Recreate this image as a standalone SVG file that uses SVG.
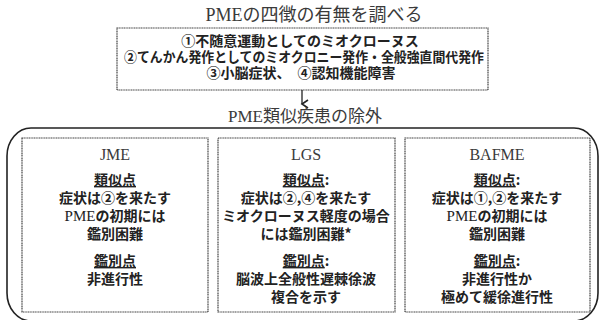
<svg xmlns="http://www.w3.org/2000/svg" width="605" height="320" viewBox="0 0 605 320">
<defs>
<style>
.serif{font-family:"Liberation Serif","Noto Sans CJK JP",serif;fill:#3a3a3a;text-anchor:middle}
.goth{font-family:"Noto Sans CJK JP",sans-serif;font-weight:700;fill:#222;text-anchor:middle;font-size:14px}
.ul{text-decoration:underline}
.box{fill:none;stroke:#444;stroke-width:1.2;stroke-dasharray:1.2 0.5}
.lat{font-family:"Liberation Serif",serif}
</style>
<marker id="ah" markerWidth="12" markerHeight="12" refX="5" refY="9" orient="auto" markerUnits="userSpaceOnUse">
<path d="M1,3 L5,9 L9,3" fill="none" stroke="#222" stroke-width="1.6"/>
</marker>
</defs>
<rect width="605" height="320" fill="#fff"/>
<text class="serif" x="314" y="21" font-size="18">PMEの四徴の有無を調べる</text>
<g id="four-signs">
<rect class="box" x="117" y="28" width="371" height="62"/>
<text class="goth" x="300" y="46" font-size="13">①不随意運動としてのミオクローヌス</text>
<text class="goth" x="304" y="62" font-size="13" textLength="360" lengthAdjust="spacingAndGlyphs">②てんかん発作としてのミオクロニー発作・全般強直間代発作</text>
<text class="goth" x="301" y="78" font-size="13">③小脳症状、　④認知機能障害</text>
</g>
<g id="connectors">
<line x1="302" y1="90" x2="302" y2="104" stroke="#222" stroke-width="1.3" marker-end="url(#ah)"/>
</g>
<text class="serif" x="305" y="122" font-size="17">PME類似疾患の除外</text>
<g id="frame">
<rect x="7" y="128" width="591" height="193" rx="24" ry="28" fill="none" stroke="#222" stroke-width="1.6"/>
</g>
<g id="jme">
<rect class="box" x="22" y="138" width="186" height="174"/>
<text class="serif" x="115" y="160" font-size="16">JME</text>
<text class="goth ul" x="115" y="185">類似点</text>
<text class="goth" x="115" y="203">症状は②を来たす</text>
<text class="goth" x="115" y="221"><tspan class="lat" font-weight="400" font-size="15">PME</tspan>の初期には</text>
<text class="goth" x="115" y="239">鑑別困難</text>
<text class="goth ul" x="115" y="266">鑑別点</text>
<text class="goth" x="115" y="284">非進行性</text>
</g>
<g id="lgs">
<rect class="box" x="218" y="138" width="177" height="174"/>
<text class="serif" x="306" y="160" font-size="16">LGS</text>
<text class="goth" x="306" y="185"><tspan class="ul">類似点</tspan>:</text>
<text class="goth" x="306" y="203">症状は②,④を来たす</text>
<text class="goth" x="306" y="221">ミオクローヌス軽度の場合</text>
<text class="goth" x="306" y="239">には鑑別困難*</text>
<text class="goth" x="306" y="266"><tspan class="ul">鑑別点</tspan>:</text>
<text class="goth" x="306" y="284">脳波上全般性遅棘徐波</text>
<text class="goth" x="306" y="302">複合を示す</text>
</g>
<g id="bafme">
<rect class="box" x="405" y="138" width="185" height="174"/>
<text class="serif" x="497" y="160" font-size="16">BAFME</text>
<text class="goth" x="497" y="185"><tspan class="ul">類似点</tspan>:</text>
<text class="goth" x="497" y="203">症状は①,②を来たす</text>
<text class="goth" x="497" y="221"><tspan class="lat" font-weight="400" font-size="15">PME</tspan>の初期には</text>
<text class="goth" x="497" y="239">鑑別困難</text>
<text class="goth" x="497" y="266"><tspan class="ul">鑑別点</tspan>:</text>
<text class="goth" x="497" y="284">非進行性か</text>
<text class="goth" x="497" y="302">極めて緩徐進行性</text>
</g>
</svg>
